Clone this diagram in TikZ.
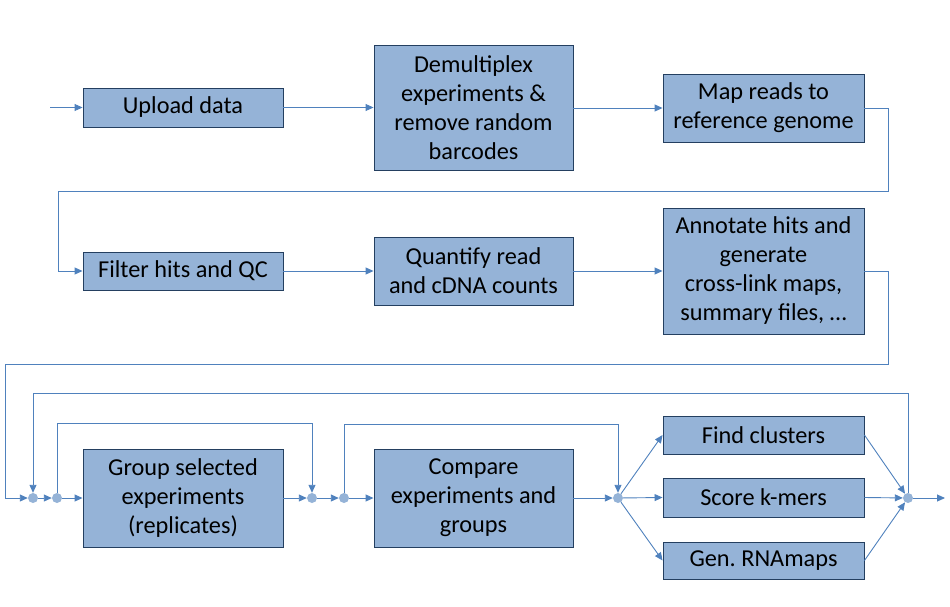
\documentclass[tikz,border=0pt]{standalone}
\usepackage{fontspec}
\setmainfont{Carlito}
\usetikzlibrary{arrows.meta}
\frenchspacing
\definecolor{boxfill}{HTML}{95B3D7}
\definecolor{boxline}{HTML}{243F60}
\definecolor{linec}{HTML}{4F81BD}
\definecolor{dotc}{HTML}{95B3D7}
\tikzset{
  stepbox/.style={draw=boxline, fill=boxfill, line width=0.9pt, inner sep=0pt, align=center,
    font=\fontsize{24.3}{29}\selectfont},
  arr/.style={draw=linec, line width=0.9pt, -{Triangle[length=8pt,width=7pt]}},
  dot/.style={circle, fill=dotc, minimum size=10pt, inner sep=0pt},
}
\begin{document}
\begin{tikzpicture}[x=1pt,y=-1pt]
\useasboundingbox (0,0) rectangle (950,606);
% boxes
\node[stepbox, minimum width=200pt, minimum height=39pt] (up) at (183,107.5) {Upload data};
\node[stepbox, minimum width=199pt, minimum height=125pt] (dm) at (473.5,107.5) {Demultiplex\\experiments \&\\remove random\\barcodes};
\node[stepbox, minimum width=201pt, minimum height=68pt] (mr) at (763.5,108) {Map reads to\\reference genome};
\node[stepbox, minimum width=200pt, minimum height=38pt] (fh) at (183,271) {Filter hits and QC};
\node[stepbox, minimum width=199pt, minimum height=68pt] (qt) at (473.5,271) {Quantify read\\and cDNA counts};
\node[stepbox, minimum width=201pt, minimum height=126pt] (an) at (763.5,271) {Annotate hits and\\generate\\cross-link maps,\\summary files, \dots};
\node[stepbox, minimum width=200pt, minimum height=98pt] (gr) at (183,498) {Group selected\\experiments\\(replicates)};
\node[stepbox, minimum width=199pt, minimum height=98pt] (cp) at (473.5,498) {Compare\\experiments and\\groups};
\node[stepbox, minimum width=201pt, minimum height=38pt] (fc) at (763.5,435) {Find clusters};
\node[stepbox, minimum width=201pt, minimum height=39pt] (sk) at (763.5,497.5) {Score k-mers};
\node[stepbox, minimum width=201pt, minimum height=37pt] (gn) at (763.5,560.5) {Gen. RNAmaps};
% dots
\node[dot] (d1) at (33,498) {};
\node[dot] (d2) at (57,498) {};
\node[dot] (d3) at (312,498) {};
\node[dot] (d4) at (344,498) {};
\node[dot] (d5) at (618,498) {};
\node[dot] (d6) at (908,498) {};
% coordinates
\coordinate (in) at (50,107.5);
\coordinate (r1) at (888,191);
\coordinate (l1) at (58,191);
\coordinate (r2) at (888,364);
\coordinate (l2) at (5,364);
\coordinate (t1) at (908,393);
\coordinate (t2) at (57,423);
\coordinate (t3) at (344,424);
\coordinate (out) at (945,498);
% connectors
\draw[arr] (in) -- (up);
\draw[arr] (up) -- (dm);
\draw[arr] (dm.east |- mr.west) -- (mr.west);
\draw[arr] (mr.east) -| (r1) -- (l1) |- (fh.west);
\draw[arr] (fh) -- (qt);
\draw[arr] (qt) -- (an);
\draw[arr] (an.east) -| (r2) -- (l2) |- (d1);
\draw[arr] (d1) -- (d2);
\draw[arr] (d2) -- (gr);
\draw[arr] (gr) -- (d3);
\draw[arr] (d3) -- (d4);
\draw[arr] (d4) -- (cp);
\draw[arr] (cp) -- (d5);
\draw[arr] (d5) -- (fc.west);
\draw[arr] (d5) -- (sk.west);
\draw[arr] (d5) -- (gn.west);
\draw[arr] (fc.east) -- (d6);
\draw[arr] (sk.east) -- (d6);
\draw[arr] (gn.east) -- (d6);
\draw[arr] (d6) -- (out);
\draw[arr] (d6) -- (t1) -| (d1);
\draw[arr] (d2) -- (t2) -| (d3);
\draw[arr] (d4) -- (t3) -| (d5);
\end{tikzpicture}
\end{document}
